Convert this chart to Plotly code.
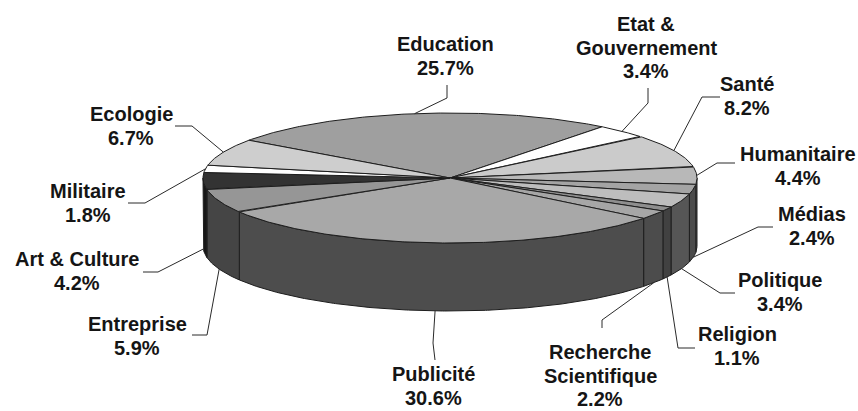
import numpy as np
import plotly.graph_objects as go

# ---- data ----
categories = ["Education", "Etat & Gouvernement", "Santé", "Humanitaire", "Médias",
              "Politique", "Religion", "Recherche Scientifique", "Publicité",
              "Entreprise", "Art & Culture", "Militaire", "Ecologie"]
shares = [25.7, 3.4, 8.2, 4.4, 2.4, 3.4, 1.1, 2.2, 30.6, 5.9, 4.2, 1.8, 6.7]
label_lines = [["Education"], ["Etat &", "Gouvernement"], ["Santé"], ["Humanitaire"],
               ["Médias"], ["Politique"], ["Religion"], ["Recherche", "Scientifique"],
               ["Publicité"], ["Entreprise"], ["Art & Culture"], ["Militaire"], ["Ecologie"]]

# ---- styling ----
top_colors = ["#9f9f9f", "#ffffff", "#cbcbcb", "#b8b8b8", "#a4a4a4", "#bdbdbd", "#8e8e8e",
              "#a6a6a6", "#a8a8a8", "#969696", "#333333", "#ffffff", "#cecece"]
SIDE_SHADE = 0.46
EDGE = "#1e1e1e"

# pie geometry (pixel space of an 858x411 canvas)
CX, CY, RX, RY, DEPTH = 450.0, 178.0, 247.0, 65.0, 68.0
START_DEG = 144.5  # first slice starts here and slices run clockwise

# label placement: centre of first text line, leader tail and knee
label_pos = [(445, 44), (646, 24), (747, 84), (798, 154), (812, 214), (780, 280),
             (737, 334), (600, 352), (433, 374), (137, 324), (77, 259), (88, 191), (131, 114)]
leader_tail = [(447, 85), (648, 88), (720, 97), (735, 163), (773, 227), (735, 293),
               (695, 348), (602, 328), (435, 360), (192, 335), (143, 272), (128, 203), (175, 126)]
leader_knee = [(447, 98), (648, 103), (702, 97), (717, 163), (758, 227), (720, 293),
               (678, 348), (602, 320), (433, 343), (207, 335), (158, 272), (145, 203), (192, 126)]
LINE_STEP = 23.5


def top_pt(a_deg, drop=0.0):
    a = np.radians(a_deg)
    return CX + RX * np.cos(a), CY - RY * np.sin(a) + drop


def shade(hex_color, k):
    h = hex_color.lstrip("#")
    r, g, b = (int(h[i:i + 2], 16) for i in (0, 2, 4))
    return "#%02x%02x%02x" % (int(r * k), int(g * k), int(b * k))


total = sum(shares)
spans = [360.0 * v / total for v in shares]
starts = []
acc = START_DEG
for s in spans:
    starts.append(acc)
    acc -= s

fig = go.Figure()

# front side walls (only the part of each slice facing the viewer)
for i, (a0, sp) in enumerate(zip(starts, spans)):
    a1 = a0 - sp
    for k in (-1, 0, 1):
        lo, hi = max(a1, -180 + 360 * k), min(a0, 360 * k)
        if hi - lo > 1e-6:
            ang = np.linspace(hi, lo, max(2, int((hi - lo) * 2) + 2))
            xt, yt = top_pt(ang)
            xb, yb = top_pt(ang[::-1], DEPTH)
            fig.add_trace(go.Scatter(
                x=np.concatenate([xt, xb, xt[:1]]), y=np.concatenate([yt, yb, yt[:1]]),
                fill="toself", fillcolor=shade(top_colors[i], SIDE_SHADE),
                mode="lines", line=dict(color=EDGE, width=1), hoverinfo="skip"))

# top faces
for i, (a0, sp) in enumerate(zip(starts, spans)):
    ang = np.linspace(a0, a0 - sp, max(2, int(sp * 2) + 2))
    xa, ya = top_pt(ang)
    fig.add_trace(go.Scatter(
        x=np.concatenate([[CX], xa, [CX]]), y=np.concatenate([[CY], ya, [CY]]),
        fill="toself", fillcolor=top_colors[i],
        mode="lines", line=dict(color=EDGE, width=1), hoverinfo="skip"))

# leader lines and labels
for i, (a0, sp) in enumerate(zip(starts, spans)):
    mid = a0 - sp / 2
    front = np.sin(np.radians(mid)) < 0
    px, py = top_pt(mid, DEPTH if front else 0.0)
    (tx, ty), (kx, ky) = leader_tail[i], leader_knee[i]
    fig.add_trace(go.Scatter(x=[tx, kx, px], y=[ty, ky, py], mode="lines",
                             line=dict(color="#2a2a2a", width=1), hoverinfo="skip"))
    lines = label_lines[i] + ["%.1f%%" % shares[i]]
    lx, ly = label_pos[i]
    for j, t in enumerate(lines):
        fig.add_annotation(x=lx, y=ly + j * LINE_STEP, text="<b>%s</b>" % t,
                           showarrow=False, xanchor="center", yanchor="middle",
                           font=dict(family="Liberation Sans, Arial, sans-serif",
                                     size=20, color="#151515"))

fig.update_layout(
    width=858, height=411, margin=dict(l=0, r=0, t=0, b=0),
    paper_bgcolor="white", plot_bgcolor="white", showlegend=False,
    xaxis=dict(range=[0, 858], visible=False, fixedrange=True),
    yaxis=dict(range=[411, 0], visible=False, fixedrange=True),
)

fig.write_html("out.html")
